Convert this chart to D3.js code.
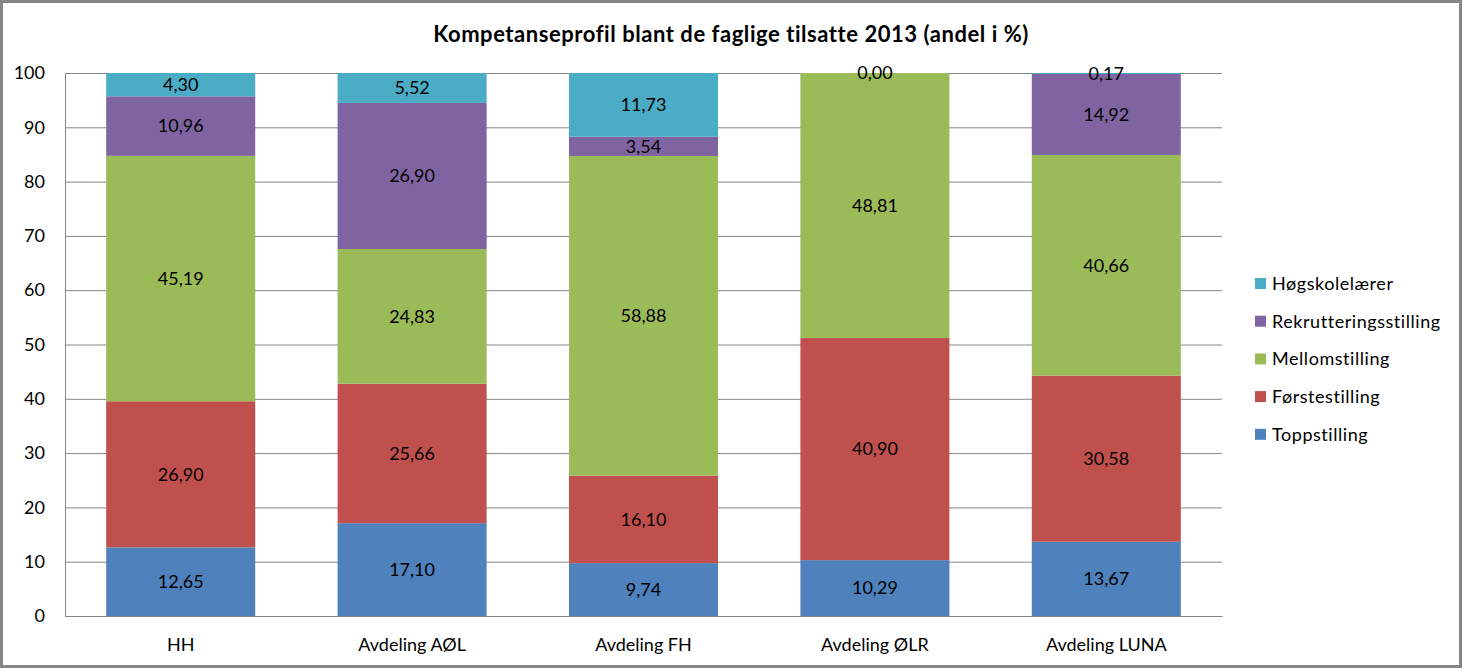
<!DOCTYPE html>
<html>
<head>
<meta charset="utf-8">
<script src="https://cdn.jsdelivr.net/npm/d3@7"></script>
<style>
  html, body { margin: 0; padding: 0; background: #fff; }
  svg { display: block; font-family: Lato, "Open Sans", sans-serif; }
</style>
</head>
<body>
<svg id="chart" width="1463" height="669"></svg>
<script>
const title = "Kompetanseprofil blant de faglige tilsatte 2013 (andel i %)";
const categories = ["HH", "Avdeling AØL", "Avdeling FH", "Avdeling ØLR", "Avdeling LUNA"];
const seriesNames = ["Toppstilling", "Førstestilling", "Mellomstilling", "Rekrutteringsstilling", "Høgskolelærer"];
const toppstilling = [12.65, 17.10, 9.74, 10.29, 13.67];
const forstestilling = [26.90, 25.66, 16.10, 40.90, 30.58];
const mellomstilling = [45.19, 24.83, 58.88, 48.81, 40.66];
const rekrutteringsstilling = [10.96, 26.90, 3.54, 0.00, 14.92];
const hogskolelaerer = [4.30, 5.52, 11.73, 0.00, 0.17];
const yTicks = [0, 10, 20, 30, 40, 50, 60, 70, 80, 90, 100];
const colors = ["#4F81BD", "#C0504D", "#9BBB59", "#8064A2", "#4BACC6"];

const seriesValues = [toppstilling, forstestilling, mellomstilling, rekrutteringsstilling, hogskolelaerer];
const table = categories.map((c, i) => {
  const row = { cat: c };
  seriesNames.forEach((s, j) => row[s] = seriesValues[j][i]);
  return row;
});
const stacked = d3.stack().keys(seriesNames)(table);

const svg = d3.select("#chart");
const plot = { left: 65, right: 1222, top: 73, bottom: 616 };

// outer border
svg.append("rect").attr("x", 1.5).attr("y", 1.5).attr("width", 1459).attr("height", 665)
  .attr("fill", "#fff").attr("stroke", "#868686").attr("stroke-width", 3);

svg.append("text").attr("x", 731).attr("y", 42).attr("text-anchor", "middle")
  .attr("font-size", 22).attr("font-weight", "bold").attr("letter-spacing", 0.55)
  .attr("fill", "#000").text(title);

const x = d3.scaleBand().domain(categories).range([plot.left, plot.right]).paddingInner(0.356).paddingOuter(0.178);
const y = d3.scaleLinear().domain([0, 100]).range([plot.bottom, plot.top]);

// gridlines
const yAxis = d3.axisLeft(y).tickValues(yTicks).tickSize(-(plot.right - plot.left)).tickSizeOuter(0).tickPadding(20)
  .tickFormat(d3.format("d"));
const gy = svg.append("g").attr("transform", `translate(${plot.left},0)`).call(yAxis);
gy.select(".domain").attr("stroke", "#868686");
gy.selectAll(".tick line").attr("stroke", "#868686").attr("stroke-width", 1);
gy.selectAll(".tick text").attr("font-size", 18).attr("fill", "#000").attr("font-family", "Lato, sans-serif").attr("x", -20);

// bars
const layers = svg.append("g").selectAll("g").data(stacked).join("g")
  .attr("fill", (d, i) => colors[i]);
layers.selectAll("rect").data(d => d).join("rect")
  .attr("x", d => x(d.data.cat))
  .attr("width", x.bandwidth())
  .attr("y", d => y(d[1]))
  .attr("height", d => Math.max(0, y(d[0]) - y(d[1])));

// x axis
const xAxis = d3.axisBottom(x).tickSize(0).tickPadding(22);
const gx = svg.append("g").attr("transform", `translate(0,${plot.bottom})`).call(xAxis);
gx.select(".domain").attr("stroke", "#868686");
gx.selectAll(".tick text").attr("font-size", 18).attr("fill", "#000").attr("font-family", "Lato, sans-serif");

// data labels
const fmt = v => v.toFixed(2).replace(".", ",");
const seen = new Set();
const labels = [];
stacked.forEach(layer => layer.forEach(d => {
  const cx = x(d.data.cat) + x.bandwidth() / 2;
  const cy = (y(d[0]) + y(d[1])) / 2;
  const key = Math.round(cx) + "_" + Math.round(cy);
  if (seen.has(key)) return;
  seen.add(key);
  labels.push({ cx, cy, t: fmt(d[1] - d[0]) });
}));
svg.append("g").selectAll("text").data(labels).join("text")
  .attr("x", d => d.cx).attr("y", d => d.cy).attr("dy", "0.35em")
  .attr("text-anchor", "middle").attr("font-size", 18).attr("fill", "#000")
  .text(d => d.t);

// legend
const legendOrder = seriesNames.map((s, i) => ({ s, c: colors[i] })).reverse();
const lg = svg.append("g").selectAll("g").data(legendOrder).join("g")
  .attr("transform", (d, i) => `translate(1255,${283.5 + i * 37.7})`);
lg.append("rect").attr("x", 0).attr("y", -5.5).attr("width", 11).attr("height", 11).attr("fill", d => d.c);
lg.append("text").attr("x", 17).attr("y", 0).attr("dy", "0.35em").attr("font-size", 18)
  .attr("letter-spacing", 0.55).attr("fill", "#000").text(d => d.s);
</script>
</body>
</html>
